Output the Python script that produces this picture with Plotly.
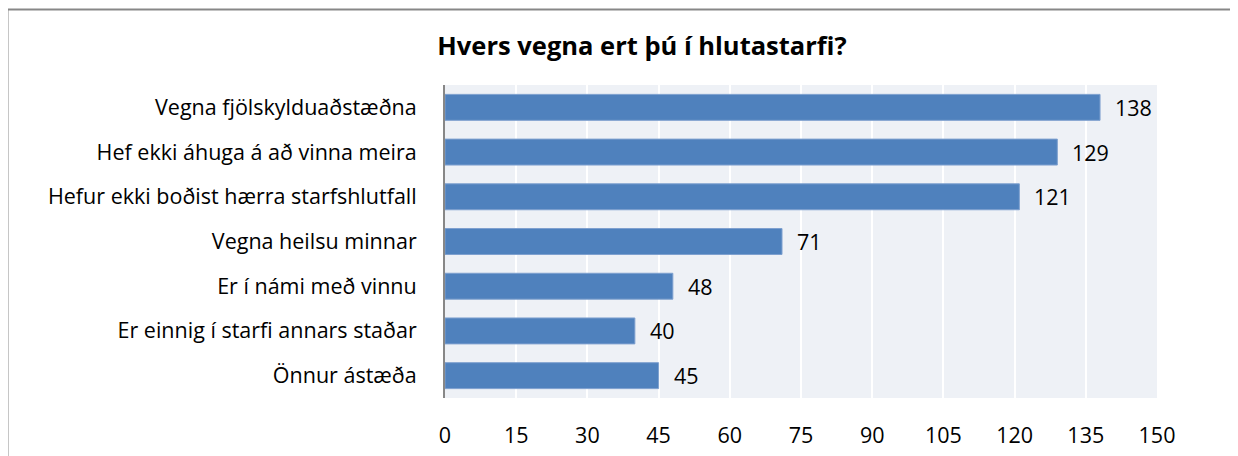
import plotly.graph_objects as go

title = "Hvers vegna ert þú í hlutastarfi?"
categories = [
    "Vegna fjölskylduaðstæðna",
    "Hef ekki áhuga á að vinna meira",
    "Hefur ekki boðist hærra starfshlutfall",
    "Vegna heilsu minnar",
    "Er í námi með vinnu",
    "Er einnig í starfi annars staðar",
    "Önnur ástæða",
]
values = [138, 129, 121, 71, 48, 40, 45]
x_ticks = [0, 15, 30, 45, 60, 75, 90, 105, 120, 135, 150]

FONT = "'Open Sans', 'Noto Sans', sans-serif"

fig = go.Figure()
fig.add_trace(go.Bar(
    x=values, y=categories, orientation="h",
    marker=dict(color="#4F81BD", line=dict(color="#7EA0CF", width=1)),
    hoverinfo="x+y",
))

for c, v in zip(categories, values):
    fig.add_annotation(x=v, y=c, text=str(v), showarrow=False,
                       xanchor="left", yanchor="middle", xshift=13,
                       font=dict(family=FONT, size=21.5, color="#000000"))

# outer chart frame: left and top edges (the rest lies outside the picture)
frame = dict(color="#878787", width=2)
fig.add_shape(type="line", xref="paper", yref="paper",
              x0=-0.6145, x1=-0.6145, y0=-0.3, y1=1.2412, line=frame, layer="below")
fig.add_shape(type="line", xref="paper", yref="paper",
              x0=-0.6145, x1=1.2, y0=1.2412, y1=1.2412, line=frame, layer="below")

fig.update_layout(
    width=1238, height=456,
    margin=dict(l=437, r=89, t=77, b=66),
    paper_bgcolor="#FFFFFF",
    plot_bgcolor="#EEF1F6",
    bargap=0.42,
    showlegend=False,
    font=dict(family=FONT, size=21, color="#000000"),
    title=dict(text="<b>" + title + "</b>", x=634 / 1238, xanchor="center",
               y=1 - 38 / 456, yanchor="middle",
               font=dict(family=FONT, size=25.5, color="#000000")),
    xaxis=dict(range=[0, 150], tickvals=x_ticks, showgrid=True,
               gridcolor="#FFFFFF", gridwidth=2, zeroline=False,
               showline=False, ticks="", ticklabelstandoff=22,
               tickfont=dict(family=FONT, size=21.5, color="#000000")),
    yaxis=dict(autorange="reversed", showline=True, linecolor="#878787",
               linewidth=2, ticks="", showgrid=False, ticklabelstandoff=22,
               tickfont=dict(family=FONT, size=21.5, color="#000000")),
)

fig.write_html("out.html")
